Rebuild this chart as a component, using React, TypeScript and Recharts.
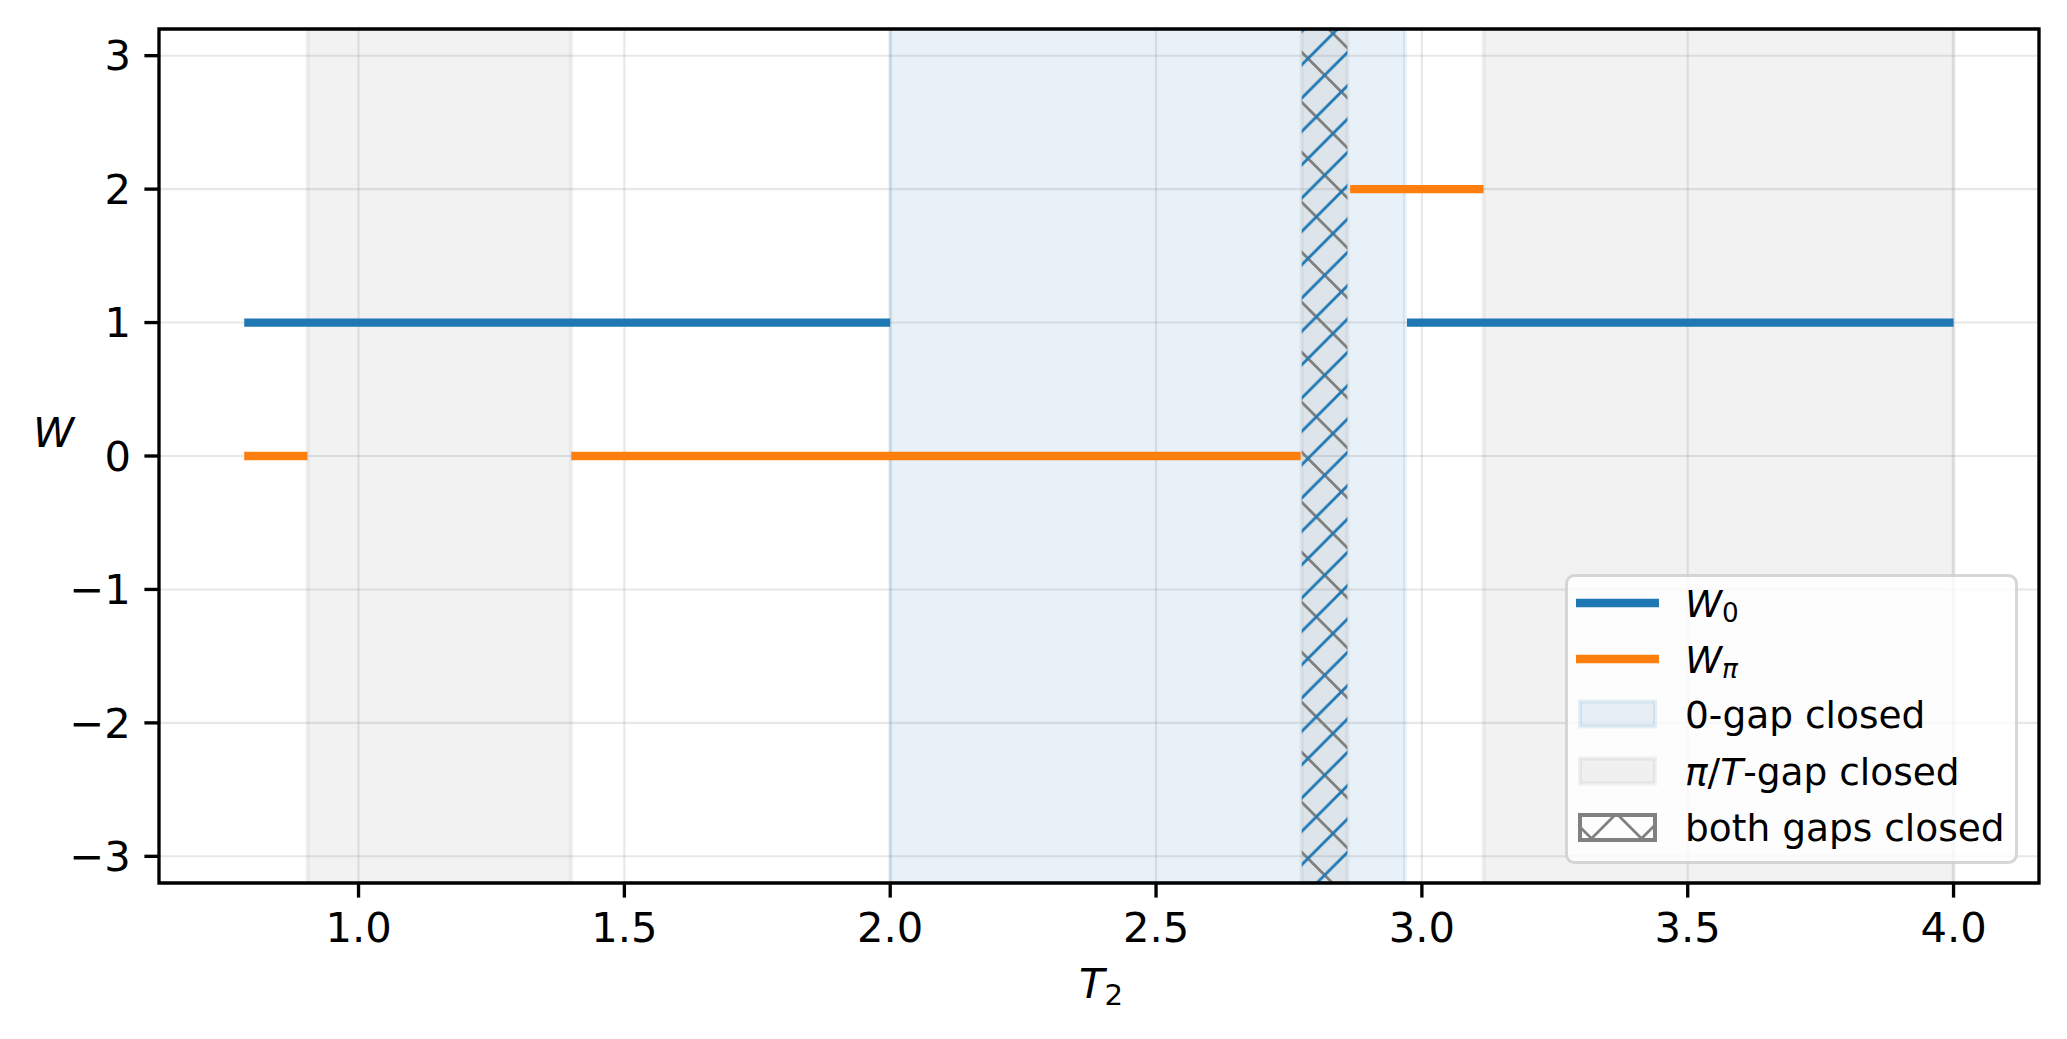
import React from 'react';
import { ComposedChart, Line, XAxis, YAxis, CartesianGrid, ReferenceArea } from 'recharts';

// ---------- data ----------
const W0_STARTS = [0.785, 2.972];
const W0_ENDS = [2.0, 4.0];
const W0_VALUES = [1, 1];

const WPI_STARTS = [0.785, 1.4, 2.865];
const WPI_ENDS = [0.904, 2.772, 3.116];
const WPI_VALUES = [0, 0, 2];

const ZERO_GAP_STARTS = [2.0];
const ZERO_GAP_ENDS = [2.968];

const PI_GAP_STARTS = [0.904, 3.116];
const PI_GAP_ENDS = [1.4, 4.0];

const BOTH_GAPS_STARTS = [2.774];
const BOTH_GAPS_ENDS = [2.86];

const X_TICKS = [1.0, 1.5, 2.0, 2.5, 3.0, 3.5, 4.0];
const Y_TICKS = [-3, -2, -1, 0, 1, 2, 3];
const X_DOMAIN: [number, number] = [0.6247, 4.1607];
const Y_DOMAIN: [number, number] = [-3.2, 3.2];

// ---------- style ----------
const FONT = "'DejaVu Sans', sans-serif";
const C0 = '#1f77b4';
const C1 = '#ff7f0e';
const GRAY = '#808080';
const GRAY_ALPHA = 0.1;
const TICK_FS = 41.67;
const LEG_FS = 37.5;
const HATCH_W = 2.8;

function segmentsToData(starts: number[], ends: number[], values: number[]) {
  const out: { t: number; w: number | null }[] = [];
  starts.forEach((s, i) => {
    out.push({ t: s, w: values[i] });
    out.push({ t: ends[i], w: values[i] });
    if (i < starts.length - 1) out.push({ t: ends[i], w: null });
  });
  return out;
}

const w0Data = segmentsToData(W0_STARTS, W0_ENDS, W0_VALUES);
const wpiData = segmentsToData(WPI_STARTS, WPI_ENDS, WPI_VALUES);

// lines x + y = c  ("/")
function slashPath(P: number, k: number) {
  let d = '';
  for (const c of [k - P, k, k + P, k + 2 * P]) d += `M${-P},${c + P}L${c + P},${-P}`;
  return d;
}
// lines y - x = c  ("\")
function backslashPath(P: number, k: number) {
  let d = '';
  for (const c of [k - 2 * P, k - P, k, k + P]) d += `M${-P},${c - P}L${2 * P},${c + 2 * P}`;
  return d;
}

const fmtY = (v: number) => (v < 0 ? '\u2212' + Math.abs(v) : String(v));
const fmtX = (v: number) => v.toFixed(1);

const YLabel = (props: any) => {
  const vb = props.viewBox || { x: 0, y: 29, width: 159, height: 854 };
  return (
    <text
      x={vb.x + 53.5}
      y={vb.y + vb.height / 2 - 9}
      textAnchor="middle"
      fontFamily={FONT}
      fontSize={TICK_FS}
      fontStyle="italic"
      fill="#000"
    >
      W
    </text>
  );
};

const XLabel = (props: any) => {
  const vb = props.viewBox || { x: 159, y: 883, width: 1880, height: 156 };
  return (
    <text
      x={vb.x + vb.width / 2 + 2}
      y={vb.y + 115}
      textAnchor="middle"
      fontFamily={FONT}
      fontSize={TICK_FS}
      fill="#000"
    >
      <tspan fontStyle="italic">T</tspan>
      <tspan fontSize={29.2} dy={7}>2</tspan>
    </text>
  );
};

const LegendBox = () => {
  const rows = [29, 85, 140, 197, 253.5];
  const tx = 120;
  const base = (c: number) => c + 13.7;
  return (
    <svg width={453} height={290} style={{ display: 'block' }}>
      <defs>
        <pattern id="legHatchA" patternUnits="userSpaceOnUse" width={50} height={50}>
          <path d={slashPath(50, 41)} stroke={GRAY} strokeWidth={HATCH_W} fill="none" />
        </pattern>
        <pattern id="legHatchB" patternUnits="userSpaceOnUse" width={50} height={50}>
          <path d={backslashPath(50, 38)} stroke={GRAY} strokeWidth={HATCH_W} fill="none" />
        </pattern>
      </defs>
      <rect
        x={1.5}
        y={1.5}
        width={450}
        height={287}
        rx={8}
        ry={8}
        fill="#ffffff"
        fillOpacity={0.8}
        stroke="#cccccc"
        strokeOpacity={0.8}
        strokeWidth={3}
      />
      {/* W0 */}
      <line x1={11} x2={94} y1={rows[0]} y2={rows[0]} stroke={C0} strokeWidth={8.3} />
      <text x={tx} y={base(rows[0])} fontFamily={FONT} fontSize={LEG_FS} fill="#000">
        <tspan fontStyle="italic">W</tspan>
        <tspan fontSize={26.25} dy={5}>0</tspan>
      </text>
      {/* Wpi */}
      <line x1={11} x2={94} y1={rows[1]} y2={rows[1]} stroke={C1} strokeWidth={8.3} />
      <text x={tx} y={base(rows[1])} fontFamily={FONT} fontSize={LEG_FS} fill="#000">
        <tspan fontStyle="italic">W</tspan>
        <tspan fontSize={26.25} fontStyle="italic" dy={5}>π</tspan>
      </text>
      {/* 0-gap closed */}
      <rect
        x={15}
        y={rows[2] - 12.5}
        width={75}
        height={25}
        fill={C0}
        fillOpacity={0.1}
        stroke={C0}
        strokeOpacity={0.1}
        strokeWidth={4}
      />
      <text x={tx} y={base(rows[2])} fontFamily={FONT} fontSize={LEG_FS} fill="#000">
        0-gap closed
      </text>
      {/* pi/T-gap closed */}
      <rect
        x={15}
        y={rows[3] - 12.5}
        width={75}
        height={25}
        fill={GRAY}
        fillOpacity={GRAY_ALPHA}
        stroke={GRAY}
        strokeOpacity={GRAY_ALPHA}
        strokeWidth={4}
      />
      <text x={tx} y={base(rows[3])} fontFamily={FONT} fontSize={LEG_FS} fill="#000">
        <tspan fontStyle="italic">π</tspan>
        <tspan>/</tspan>
        <tspan fontStyle="italic">T</tspan>
        <tspan>-gap closed</tspan>
      </text>
      {/* both gaps closed */}
      <rect x={15} y={rows[4] - 12.5} width={75} height={25} fill="url(#legHatchA)" />
      <rect x={15} y={rows[4] - 12.5} width={75} height={25} fill="url(#legHatchB)" />
      <rect
        x={15}
        y={rows[4] - 12.5}
        width={75}
        height={25}
        fill="none"
        stroke={GRAY}
        strokeWidth={4}
      />
      <text x={tx} y={base(rows[4])} fontFamily={FONT} fontSize={LEG_FS} fill="#000">
        both gaps closed
      </text>
    </svg>
  );
};

export default function App() {
  const tickStyle = { fill: '#000', fontSize: TICK_FS, fontFamily: FONT };
  const tickLine = { stroke: '#000', strokeWidth: 3.33 };
  return (
    <div style={{ position: 'absolute', left: 0, top: 0, width: 2067, height: 1039, background: '#fff' }}>
      <ComposedChart
        width={2067}
        height={1039}
        margin={{ top: 29, right: 28, bottom: 0, left: 0 }}
        style={{ fontFamily: FONT }}
      >
        <defs>
          <pattern id="hatchGray" patternUnits="userSpaceOnUse" width={50} height={50}>
            <path d={backslashPath(50, 0.5)} stroke={GRAY} strokeWidth={HATCH_W} fill="none" />
          </pattern>
          <pattern id="hatchBlue" patternUnits="userSpaceOnUse" width={33.33} height={33.33}>
            <path d={slashPath(33.33, 0)} stroke={C0} strokeWidth={HATCH_W} fill="none" />
          </pattern>
        </defs>
        <CartesianGrid stroke="#b0b0b0" strokeOpacity={0.3} strokeWidth={2.1} />
        <XAxis
          dataKey="t"
          type="number"
          domain={X_DOMAIN}
          ticks={X_TICKS}
          interval={0}
          allowDataOverflow
          height={156}
          axisLine={false}
          tickLine={tickLine}
          tickSize={14.6}
          tickMargin={14.4}
          tick={tickStyle}
          tickFormatter={fmtX}
          label={{ content: (p: any) => <XLabel {...p} /> }}
        />
        <YAxis
          type="number"
          domain={Y_DOMAIN}
          ticks={Y_TICKS}
          interval={0}
          allowDataOverflow
          width={159}
          axisLine={false}
          tickLine={tickLine}
          tickSize={14.6}
          tickMargin={13.5}
          tick={tickStyle}
          tickFormatter={fmtY}
          label={{ content: (p: any) => <YLabel {...p} /> }}
        />
        {ZERO_GAP_STARTS.map((s, i) => (
          <ReferenceArea
            key={'z' + i}
            x1={s}
            x2={ZERO_GAP_ENDS[i]}
            fill={C0}
            fillOpacity={0.1}
            stroke={C0}
            strokeOpacity={0.1}
            strokeWidth={4}
            ifOverflow="visible"
          />
        ))}
        {PI_GAP_STARTS.map((s, i) => (
          <ReferenceArea
            key={'p' + i}
            x1={s}
            x2={PI_GAP_ENDS[i]}
            fill={GRAY}
            fillOpacity={GRAY_ALPHA}
            stroke={GRAY}
            strokeOpacity={GRAY_ALPHA}
            strokeWidth={4}
            ifOverflow="visible"
          />
        ))}
        {BOTH_GAPS_STARTS.map((s, i) => (
          <ReferenceArea
            key={'bf' + i}
            x1={s}
            x2={BOTH_GAPS_ENDS[i]}
            fill={GRAY}
            fillOpacity={GRAY_ALPHA}
            stroke={GRAY}
            strokeOpacity={GRAY_ALPHA}
            strokeWidth={4}
            ifOverflow="visible"
          />
        ))}
        {BOTH_GAPS_STARTS.map((s, i) => (
          <ReferenceArea
            key={'bg' + i}
            x1={s}
            x2={BOTH_GAPS_ENDS[i]}
            fill="url(#hatchGray)"
            fillOpacity={1}
            stroke="none"
            ifOverflow="visible"
          />
        ))}
        {BOTH_GAPS_STARTS.map((s, i) => (
          <ReferenceArea
            key={'bb' + i}
            x1={s}
            x2={BOTH_GAPS_ENDS[i]}
            fill="url(#hatchBlue)"
            fillOpacity={1}
            stroke="none"
            ifOverflow="visible"
          />
        ))}
        <Line
          data={w0Data}
          dataKey="w"
          type="linear"
          stroke={C0}
          strokeWidth={8.3}
          dot={false}
          activeDot={false}
          connectNulls={false}
          isAnimationActive={false}
          name="W0"
        />
        <Line
          data={wpiData}
          dataKey="w"
          type="linear"
          stroke={C1}
          strokeWidth={8.3}
          dot={false}
          activeDot={false}
          connectNulls={false}
          isAnimationActive={false}
          name="Wpi"
        />
        <ReferenceArea
          x1={X_DOMAIN[0]}
          x2={X_DOMAIN[1]}
          y1={Y_DOMAIN[0]}
          y2={Y_DOMAIN[1]}
          fill="none"
          fillOpacity={0}
          stroke="#000"
          strokeWidth={3.33}
          ifOverflow="visible"
        />
      </ComposedChart>
      <div style={{ position: 'absolute', left: 1565, top: 574, width: 453, height: 290 }}>
        <LegendBox />
      </div>
    </div>
  );
}
